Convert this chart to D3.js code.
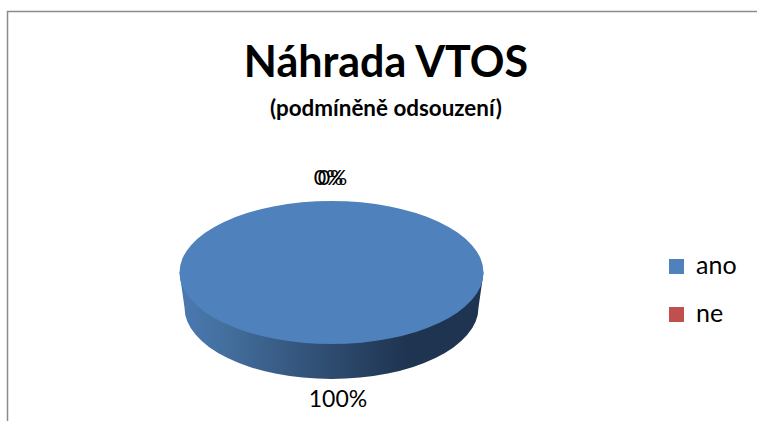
<!DOCTYPE html>
<html>
<head>
<meta charset="utf-8">
<script src="https://cdn.jsdelivr.net/npm/d3@7"></script>
<style>
  html, body { margin: 0; padding: 0; background: #fff; }
  svg { display: block; }
  text { font-family: Lato, "Open Sans", sans-serif; fill: #000; }
</style>
</head>
<body>
<svg id="chart"></svg>
<script>
const categories = ['ano', 'ne', '']
const values = [100, 0, 0]
const labels = ['100%', '0%', '0%']
const legendNames = ['ano', 'ne']
const colors = ['#4f81bd', '#c0504d', '#9bbb59']

const width = 757
const height = 421

const svg = d3.select('#chart').attr('width', width).attr('height', height)

// chart frame, only top and left show in the crop
svg.append('path')
  .attr('d', d3.line()([[7.5, height], [7.5, 11.5], [width, 11.5]]))
  .attr('fill', 'none')
  .attr('stroke', '#8c8c8c')
  .attr('stroke-width', 1.5)

/// titles
svg.append('text')
  .text('Náhrada VTOS')
  .attr('x', 386)
  .attr('y', 77)
  .attr('text-anchor', 'middle')
  .attr('font-size', 43)
  .attr('font-weight', 'bold')

svg.append('text')
  .text('(podmíněně odsouzení)')
  .attr('x', 386)
  .attr('y', 116)
  .attr('text-anchor', 'middle')
  .attr('font-size', 22.4)
  .attr('font-weight', 'bold')

/// pie
const cx = 331.5
const cy = 272.5
const rx = 152
const ry = 71.5
const depth = 35
const baseRx = 147 // wall tapers a little towards the bottom

const pie = d3.pie().sort(null)
const slices = pie(values)
const arc = d3.arc().innerRadius(0).outerRadius(rx)

const defs = svg.append('defs')
const grad = defs.append('linearGradient')
  .attr('id', 'wall')
  .attr('x1', 0).attr('x2', 1).attr('y1', 0).attr('y2', 0)
grad.selectAll('stop')
  .data([[0, '#4b79b2'], [0.14, '#44709f'], [0.5, '#2e4b6f'], [0.75, '#1f3450'], [1, '#1f3450']])
  .enter()
  .append('stop')
  .attr('offset', d => d[0])
  .attr('stop-color', d => d[1])

// side wall: straight sides down to the lower half of a shifted ellipse
svg.append('path')
  .attr('d', `M${cx - rx},${cy} L${cx - baseRx},${cy + depth} ` +
    `A${baseRx},${ry} 0 0 0 ${cx + baseRx},${cy + depth} L${cx + rx},${cy} Z`)
  .attr('fill', 'url(#wall)')

svg.append('g')
  .attr('transform', `translate(${cx},${cy}) scale(1,${ry / rx})`)
  .selectAll('path')
  .data(slices)
  .enter()
  .append('path')
  .attr('d', arc)
  .attr('fill', (d, i) => colors[i])

/// data labels, the two empty slices land on each other at the top
const labelPos = [[338, 407], [328.5, 184.5], [332.5, 184.5]]
svg.append('g')
  .selectAll('text')
  .data(labels)
  .enter()
  .append('text')
  .text(d => d)
  .attr('x', (d, i) => labelPos[i][0])
  .attr('y', (d, i) => labelPos[i][1])
  .attr('text-anchor', 'middle')
  .attr('font-size', (d, i) => (i ? 21.5 : 23))

/// legend
const legend = svg.append('g')
  .selectAll('g')
  .data(legendNames)
  .enter()
  .append('g')
  .attr('transform', (d, i) => `translate(669,${259 + i * 48})`)

legend.append('rect')
  .attr('width', 15)
  .attr('height', 15)
  .attr('fill', (d, i) => colors[i])

legend.append('text')
  .text(d => d)
  .attr('x', 27)
  .attr('y', 15)
  .attr('font-size', 25)
</script>
</body>
</html>
